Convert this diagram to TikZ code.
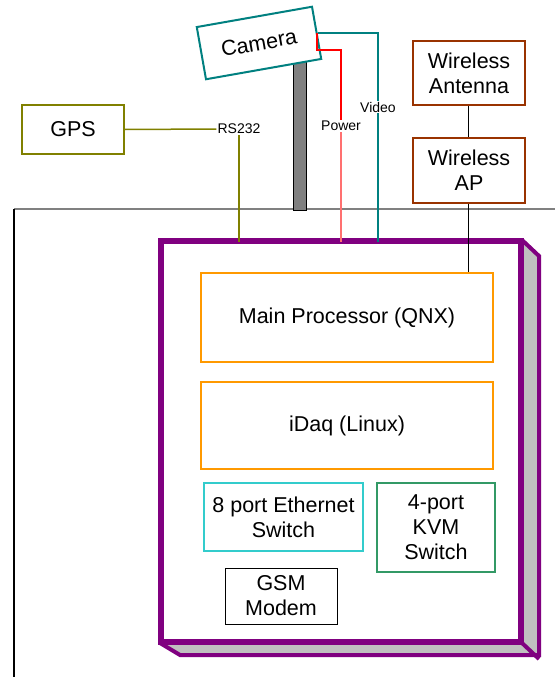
\documentclass[tikz,border=0pt]{standalone}
\usepackage{fontspec}
\setmainfont{Liberation Sans}
\definecolor{cOrange}{HTML}{FF9900}
\definecolor{cCyan}{HTML}{33CCCC}
\definecolor{cGreen}{HTML}{339966}
\definecolor{cTeal}{HTML}{008080}
\definecolor{cOlive}{HTML}{808000}
\definecolor{cBrown}{HTML}{993300}
\definecolor{cPurple}{HTML}{800080}
\definecolor{cShadow}{HTML}{C0C0C0}
\definecolor{cGray}{HTML}{808080}
\definecolor{cPink}{HTML}{FF7070}
\begin{document}
\begin{tikzpicture}[x=1pt,y=-1pt,
  box/.style={draw, line width=2pt, fill=white, rectangle, inner sep=0pt, align=center,
    font=\fontsize{21.5}{25}\selectfont},
  lbl/.style={fill=white, inner sep=1pt, font=\fontsize{14}{16}\selectfont}]
\useasboundingbox (0,0) rectangle (555,677);
% frame
\draw[cGray, line width=1.5pt] (14,209) -- (555,209);
\draw[black, line width=1.2pt] (14,209) -- (14,677);
% pole
\draw[black, fill=cGray, line width=0.8pt] (293,55) rectangle (306,210);
% main unit
\node[draw=cPurple, line width=4pt, fill=white, minimum width=358pt, minimum height=399pt, inner sep=0pt] (unit) at (341,441.5) {};
\fill[cShadow] (unit.north east) -- ++(17,16) -- ++(0,399) -- ++(-359,0) -- (unit.south west) -- (unit.south east) -- cycle;
\draw[cPurple, line width=4pt, line join=miter] (unit.north east) -- ++(17,16) -- ++(0,399) -- ++(-359,0) -- (unit.south west);
\draw[cPurple, line width=4pt] (unit.south east) -- ++(17,16);
\draw[cPurple, line width=4pt] (unit.south west) rectangle (unit.north east);
% inner boxes
\node[box, draw=cOrange, minimum width=292pt, minimum height=89pt] (main) at (347,317.5) {Main Processor (QNX)};
\node[box, draw=cOrange, minimum width=292pt, minimum height=87pt] (idaq) at (347,425.5) {iDaq (Linux)};
\node[box, draw=cCyan, minimum width=159pt, minimum height=68pt] (eth) at (283.5,517) {8 port Ethernet\\Switch};
\node[box, draw=cGreen, minimum width=118pt, minimum height=89pt] (kvm) at (436,527.5) {4-port\\KVM\\Switch};
\node[box, draw=black, line width=1pt, minimum width=112pt, minimum height=56pt] (gsm) at (281,596) {GSM\\Modem};
% top devices
\node[box, draw=cOlive, minimum width=102pt, minimum height=49pt] (gps) at (73,129.5) {GPS};
\node[box, draw=cBrown, minimum width=112pt, minimum height=64pt] (ant) at (469,73) {Wireless\\Antenna};
\node[box, draw=cBrown, minimum width=112pt, minimum height=65pt] (ap) at (469,170.5) {Wireless\\AP};
\node[box, draw=cTeal, minimum width=117pt, minimum height=53pt, rotate=10] (cam) at (259,43) {Camera};
% connectors
\coordinate (camP) at (317,33);
\coordinate (camV) at (318,33);
\node[lbl] (rs) at (239,129) {RS232};
\node[lbl] (pw) at (341,126) {Power};
\node[lbl] (vd) at (378,107) {Video};
\draw[cOlive, line width=1.5pt] (gps.east) -- (rs.west);
\draw[cOlive, line width=1.5pt] (rs.south -| 239,0) -- (239,242);
\draw[red, line width=1.2pt] (camP) -- (317,50) -- (341,50) -- (pw.north);
\draw[cPink, line width=1.2pt] (pw.south) -- (341,242);
\draw[cTeal, line width=1.5pt] (camV) -- (378,33) -- (vd.north);
\draw[cTeal, line width=1.5pt] (vd.south) -- (378,242);
\draw[black, line width=0.8pt] (ant.south -| 468,0) -- (ap.north -| 468,0);
\draw[black, line width=0.8pt] (ap.south -| 468,0) -- (main.north -| 468,0);
\end{tikzpicture}
\end{document}
